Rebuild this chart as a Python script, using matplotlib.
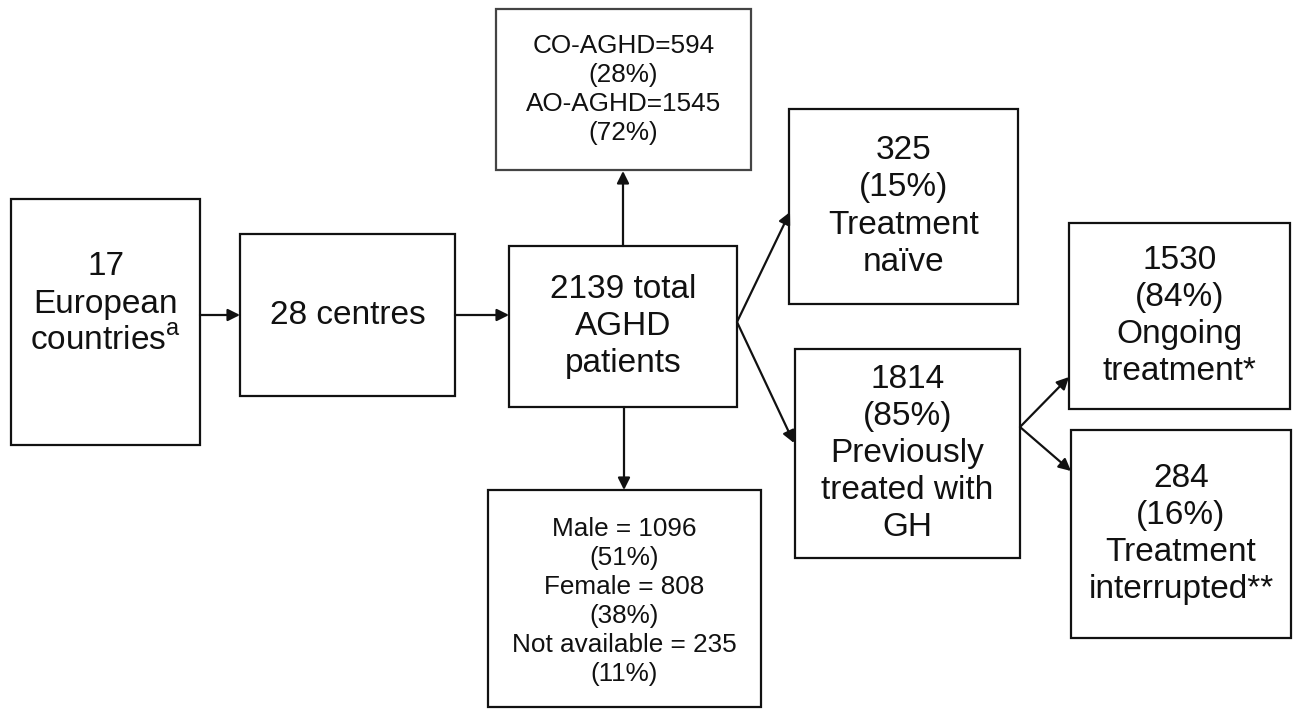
import matplotlib
matplotlib.use('Agg')
import matplotlib.pyplot as plt
from matplotlib.patches import Rectangle

plt.rcParams['font.family'] = ['Liberation Sans', 'DejaVu Sans']
plt.rcParams['mathtext.fontset'] = 'custom'
plt.rcParams['mathtext.rm'] = 'Liberation Sans'

# box texts
countries_label = "17\nEuropean\ncountries$^{\\mathrm{a}}$"
centres_label = "28 centres"
total_label = "2139 total\nAGHD\npatients"
onset_label = "CO-AGHD=594\n(28%)\nAO-AGHD=1545\n(72%)"
sex_label = "Male = 1096\n(51%)\nFemale = 808\n(38%)\nNot available = 235\n(11%)"
naive_label = "325\n(15%)\nTreatment\nnaïve"
prev_label = "1814\n(85%)\nPreviously\ntreated with\nGH"
ongoing_label = "1530\n(84%)\nOngoing\ntreatment*"
interrupted_label = "284\n(16%)\nTreatment\ninterrupted**"

BIG, SMALL = 24, 18.8

# layout in pixels: (x0, y0, x1, y1), text y offset, font size, edge colour
boxes = {
    'countries': ((11, 199, 200, 445), -18, BIG, '#111111', countries_label),
    'centres': ((240, 234, 455, 396), 0, BIG, '#111111', centres_label),
    'total': ((509, 246, 737, 407), 0, BIG, '#111111', total_label),
    'onset': ((496, 9, 751, 170), 0, SMALL, '#444444', onset_label),
    'sex': ((488, 490, 761, 707), 3, SMALL, '#111111', sex_label),
    'naive': ((789, 109, 1018, 304), 0, BIG, '#111111', naive_label),
    'prev': ((795, 349, 1020, 558), 0, BIG, '#111111', prev_label),
    'ongoing': ((1069, 223, 1290, 409), 0, BIG, '#111111', ongoing_label),
    'interrupted': ((1071, 430, 1291, 638), 0, BIG, '#111111', interrupted_label),
}

# arrows: (start, end) in pixels
arrows = [
    ((200, 315), (240, 315)),
    ((455, 315), (509, 315)),
    ((623, 246), (623, 171)),
    ((624, 407), (624, 490)),
    ((737, 322), (790, 212)),
    ((737, 322), (794, 443)),
    ((1020, 427), (1069, 377)),
    ((1020, 427), (1071, 471)),
]

W, H = 1293, 709
fig = plt.figure(figsize=(W / 100, H / 100), dpi=100)
ax = fig.add_axes([0, 0, 1, 1])
ax.set_xlim(0, W)
ax.set_ylim(H, 0)
ax.axis('off')

for name, ((x0, y0, x1, y1), dy, fs, ec, label) in boxes.items():
    ax.add_patch(Rectangle((x0, y0), x1 - x0, y1 - y0, fill=False,
                           edgecolor=ec, linewidth=1.6))
    ax.text((x0 + x1) / 2, (y0 + y1) / 2 + dy, label, ha='center', va='center',
            fontsize=fs, linespacing=1.26, color='#111111')

for start, end in arrows:
    ax.annotate('', xy=end, xytext=start,
                arrowprops=dict(arrowstyle='-|>', color='#111111', lw=1.6,
                                mutation_scale=18, shrinkA=0, shrinkB=0))

fig.savefig('out.png', dpi=100, facecolor='white')
